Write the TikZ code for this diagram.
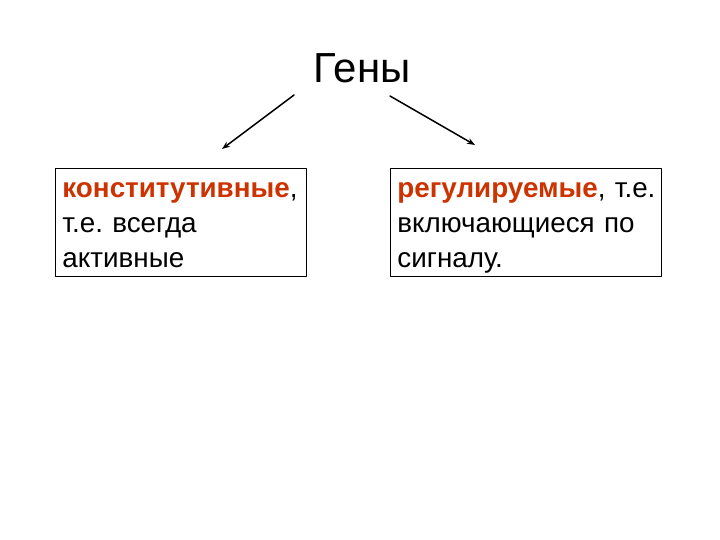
\documentclass[tikz,border=0pt]{standalone}
\usepackage{fontspec}
\setmainfont{Liberation Sans}
\usetikzlibrary{arrows.meta}
\definecolor{genred}{RGB}{204,51,0}
\newcommand\genstrut{\rule[-7pt]{0pt}{34pt}}
\frenchspacing
\begin{document}
\begin{tikzpicture}[x=1pt, y=-1pt, line cap=round, line join=round, >={Stealth[length=8pt, width=6pt]}, scale=1]
			\tikzset{genbox/.style={draw, line width=0.9pt, anchor=north west, align=left, inner xsep=7pt, inner ysep=2pt,
				font=\fontsize{27.8}{35}\selectfont, minimum height=108pt}}
			\useasboundingbox (0,0) rectangle (720,540);
			\node (title) at (362,68) {\fontsize{42}{46}\selectfont Гены};
			\node[genbox, text width=237pt, minimum width=251pt] (konst) at (55,168) {\genstrut\textcolor{genred}{\textbf{конститутивные}},\\\genstrut т.е. всегда\\\genstrut активные};
			\node[genbox, text width=257pt, minimum width=271pt] (regul) at (390,168) {\genstrut\mbox{\textcolor{genred}{\textbf{регулируемые}}, т.е.}\\\genstrut включающиеся по\\\genstrut сигналу.};
			\coordinate (ls) at (294,95);
			\coordinate (le) at (222,149);
			\coordinate (rs) at (390,96);
			\coordinate (re) at (475,145);
			\draw[->, line width=1.5pt] (ls)--(le);
			\draw[->, line width=1.5pt] (rs)--(re);
		\end{tikzpicture}
\end{document}
